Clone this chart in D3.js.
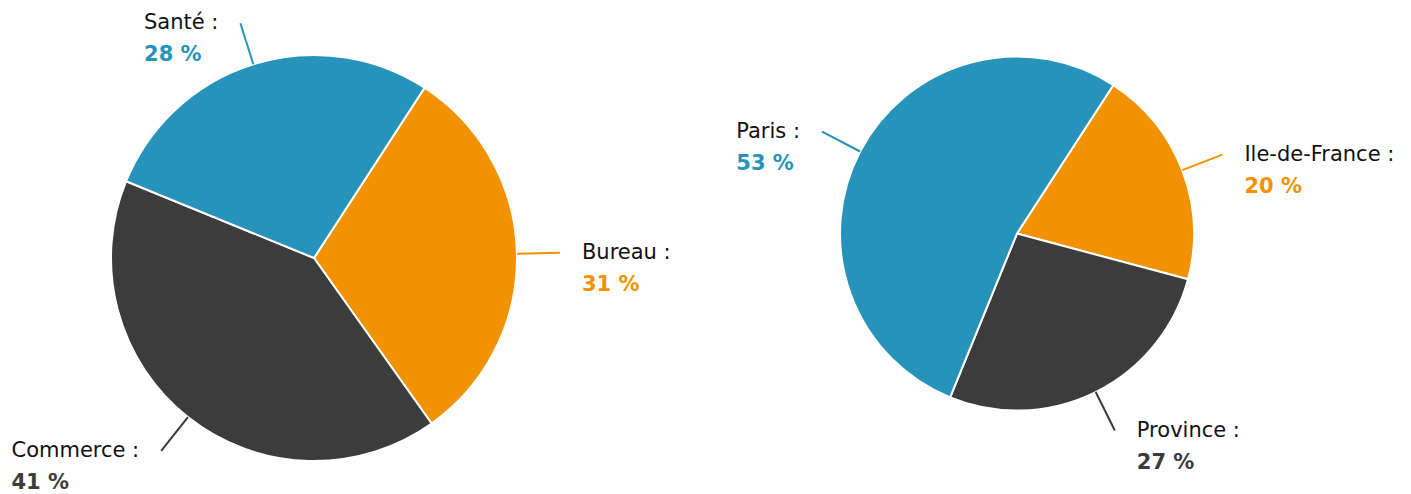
<!DOCTYPE html>
<html>
<head>
<meta charset="utf-8">
<script src="https://cdn.jsdelivr.net/npm/d3@7"></script>
<style>
  body { margin: 0; background: #fff; }
  svg { display: block; font-family: "DejaVu Sans", sans-serif; }
</style>
</head>
<body>
<div id="chart"></div>
<script>
// data, in drawing order (clockwise from start angle)
const sectorLabels = ["Bureau", "Commerce", "Santé"];
const sectorValues = [31, 41, 28];
const zoneLabels = ["Ile-de-France", "Province", "Paris"];
const zoneValues = [20, 27, 53];
const sliceColors = ["#f39200", "#3c3c3c", "#2793bb"];

const width = 1411, height = 494;

const svg = d3.select("#chart").append("svg")
    .attr("width", width)
    .attr("height", height);

function drawPie(labels, values, cx, cy, radius) {
  const data = labels.map((l, i) => ({label: l, value: values[i], color: sliceColors[i]}));
  const start = 33 * Math.PI / 180;
  const pie = d3.pie().value(d => d.value).sort(null)
      .startAngle(start).endAngle(start + 2 * Math.PI);
  const arc = d3.arc().innerRadius(0).outerRadius(radius);
  const arcs = pie(data);

  const g = svg.append("g").attr("transform", `translate(${cx},${cy})`);

  g.selectAll("path")
    .data(arcs)
    .join("path")
      .attr("d", arc)
      .attr("fill", d => d.data.color)
      .attr("stroke", "#fff")
      .attr("stroke-width", 2);

  // connector lines
  const lineLen = 43;
  const pt = (a, r) => [Math.sin(a) * r, -Math.cos(a) * r];

  arcs.forEach(d => {
    const mid = (d.startAngle + d.endAngle) / 2;
    const p0 = pt(mid, radius);
    const p1 = pt(mid, radius + lineLen);
    g.append("line")
      .attr("x1", p0[0]).attr("y1", p0[1])
      .attr("x2", p1[0]).attr("y2", p1[1])
      .attr("stroke", d.data.color)
      .attr("stroke-width", 2);

    const right = Math.sin(mid) > 0;
    const lab = g.append("g");
    const t1 = lab.append("text")
      .attr("y", 6)
      .style("font-size", "21px")
      .style("fill", "#111")
      .text(d.data.label + " :");
    const t2 = lab.append("text")
      .attr("y", 38)
      .style("font-size", "21px")
      .style("font-weight", "bold")
      .style("fill", d.data.color)
      .text(d.data.value + " %");
    const w = Math.max(t1.node().getComputedTextLength(), t2.node().getComputedTextLength());
    const x = right ? p1[0] + 22 : p1[0] - 22 - w;
    lab.attr("transform", `translate(${x},${p1[1]})`);
  });
}

drawPie(sectorLabels, sectorValues, 314, 258, 203);
drawPie(zoneLabels, zoneValues, 1017, 233.5, 177);
</script>
</body>
</html>
